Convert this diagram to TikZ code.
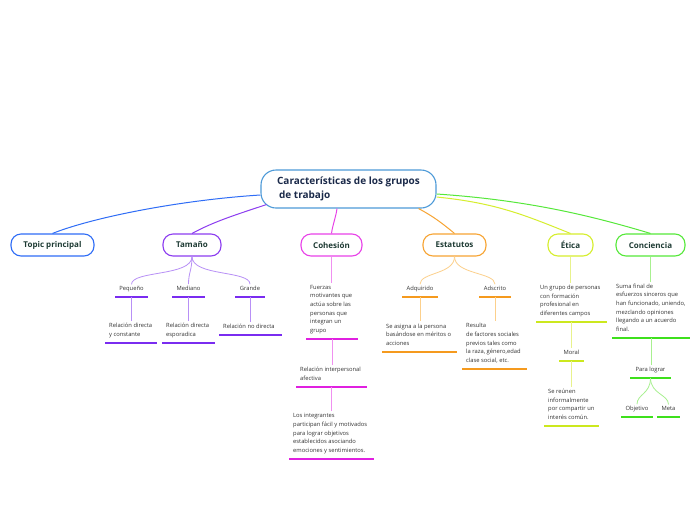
\documentclass[tikz,border=0pt]{standalone}
\usepackage{fontspec}
\setmainfont{Open Sans}
\definecolor{centB}{HTML}{4D9AD8}
\definecolor{titleT}{HTML}{1B2A4A}
\definecolor{mainT}{HTML}{1E3B34}
\definecolor{smallT}{HTML}{333333}
\definecolor{cBlue}{HTML}{2F6DF6}
\definecolor{cPur}{HTML}{8C3CF0}
\definecolor{cPurL}{HTML}{B890F6}
\definecolor{cPurU}{HTML}{7A2CF0}
\definecolor{cMag}{HTML}{E842E8}
\definecolor{cMagL}{HTML}{F090F0}
\definecolor{cMagU}{HTML}{E020E0}
\definecolor{cOra}{HTML}{F7A433}
\definecolor{cOraL}{HTML}{FCD08C}
\definecolor{cOraU}{HTML}{F59A1E}
\definecolor{cYel}{HTML}{D6EE2E}
\definecolor{cYelL}{HTML}{E8F28C}
\definecolor{cYelU}{HTML}{CCE81E}
\definecolor{cGre}{HTML}{56E83A}
\definecolor{cGreL}{HTML}{A8F090}
\definecolor{cGreU}{HTML}{3EE01C}
\tikzset{
  mainbox/.style={draw, rounded corners=10pt, minimum height=22pt, line width=1.1pt,
    fill=white, font=\bfseries\fontsize{8}{10}\selectfont, text=mainT, inner sep=0pt},
  txt/.style={inner xsep=4pt, inner ysep=2pt, font=\fontsize{5.8}{8.6}\selectfont, text=smallT},
  ulline/.style={line width=1.6pt},
  conn/.style={line width=1pt},
  brl/.style={line width=0.8pt}
}
\newcommand\ulc[6]{%
  \coordinate (#1-l) at (#2,#4);
  \coordinate (#1-r) at (#3,#4);
  \coordinate (#1-m) at ({(#2+#3)/2},#4);
  \node[txt, anchor=south, align=center] (#1) at ({(#2+#3)/2},#4-2.6) {#6\vphantom{gp}};
  \draw[ulline, #5] (#1-l) -- (#1-r);
}
\newcommand\ull[6]{%
  \coordinate (#1-l) at (#2,#4);
  \coordinate (#1-r) at (#3,#4);
  \coordinate (#1-m) at ({(#2+#3)/2},#4);
  \node[txt, anchor=south west, align=left] (#1) at (#2,#4-3.2) {#6\vphantom{gp}};
  \draw[ulline, #5] (#1-l) -- (#1-r);
}
\begin{document}
\begin{tikzpicture}[x=1pt,y=-1pt]
\fill[white] (0,0) rectangle (696,520);
\useasboundingbox (0,0) rectangle (696,520);

% central node
\node[draw=centB, line width=1.1pt, rounded corners=15pt, minimum width=175pt, minimum height=38pt,
  fill=white, align=left, text=titleT, font=\bfseries\fontsize{10}{14}\selectfont, inner sep=0pt]
  (cent) at (348.5,189) {Características de los grupos\\\hspace*{2pt}de trabajo};

% main topics
\node[mainbox, draw=cBlue, minimum width=83pt] (top) at (52.5,245) {Topic principal};
\node[mainbox, draw=cPur, minimum width=58pt] (tam) at (192,245) {Tamaño};
\node[mainbox, draw=cMag, minimum width=61pt] (coh) at (331.5,245) {Cohesión};
\node[mainbox, draw=cOra, minimum width=63pt] (est) at (454.5,245) {Estatutos};
\node[mainbox, draw=cYel, minimum width=45pt] (eti) at (570.5,245) {Ética};
\node[mainbox, draw=cGre, minimum width=69pt] (con) at (650.5,245) {Conciencia};

% main connectors
\draw[conn, cBlue] ([yshift=-6pt]cent.west) .. controls +(-80,5) and +(40,-16) .. (top.north);
\draw[conn, cPur] ([xshift=6pt,yshift=4pt]cent.south west) .. controls +(-30,10) and +(22,-12) .. (tam.north);
\draw[conn, cMag] ([xshift=-11.5pt]cent.south) .. controls +(-1,8) and +(1,-8) .. (coh.north);
\draw[conn, cOra] ([xshift=-18pt]cent.south east) .. controls +(15,8) and +(-12,-10) .. (est.north);
\draw[conn, cYel] ([yshift=-8pt]cent.east) .. controls +(60,6) and +(-45,-18) .. (eti.north);
\draw[conn, cGre] ([yshift=-5pt]cent.east) .. controls +(90,6) and +(-60,-18) .. (con.north);

% Tamano
\ulc{peq}{115}{148}{297}{cPurU}{Pequeño}
\ulc{med}{172}{205}{297}{cPurU}{Mediano}
\ulc{gra}{235}{265}{297}{cPurU}{Grande}
\ull{rdc}{105}{157}{343}{cPurU}{Relación directa\\y constante}
\ull{rde}{162}{215}{343}{cPurU}{Relación directa\\esporadica}
\ull{rnd}{219}{282}{335}{cPurU}{Relación no directa}
\draw[brl, cPurL] (tam.south) .. controls +(0,20) and +(0,-14) .. (peq.north);
\draw[brl, cPurL] (tam.south) .. controls +(0,14) and +(0,-12) .. (med.north);
\draw[brl, cPurL] (tam.south) .. controls +(0,20) and +(0,-14) .. (gra.north);
\draw[brl, cPurL] (peq-m) -- (peq-m |- rdc.north);
\draw[brl, cPurL] (med-m) -- (med-m |- rde.north);
\draw[brl, cPurL] (gra-m) -- (gra-m |- rnd.north);

% Cohesion
\ull{fue}{306}{358}{339}{cMagU}{Fuerzas\\motivantes que\\actúa sobre las\\personas que\\integran un\\grupo}
\ull{rel}{296}{367}{387}{cMagU}{Relación interpersonal\\afectiva}
\ull{los}{289}{374}{459}{cMagU}{Los integrantes\\participan fácil y motivados\\para lograr objetivos\\establecidos asociando\\emociones y sentimientos.}
\draw[brl, cMagL] (coh.south) -- (coh.south |- fue.north);
\draw[brl, cMagL] (fue-m) -- (fue-m |- rel.north);
\draw[brl, cMagL] (rel-m) -- (rel-m |- los.north);

% Estatutos
\ulc{adq}{402}{438}{297}{cOraU}{Adquirido}
\ulc{ads}{479}{511}{297}{cOraU}{Adscrito}
\ull{sea}{382}{457}{352}{cOraU}{Se asigna a la persona\\basándose en méritos o\\acciones}
\ull{res}{462}{527}{369}{cOraU}{Resulta\\de factores sociales\\previos tales como\\la raza, género,edad\\clase social, etc.}
\draw[brl, cOraL] (est.south) .. controls +(0,18) and +(0,-12) .. (adq.north);
\draw[brl, cOraL] (est.south) .. controls +(0,18) and +(0,-12) .. (ads.north);
\draw[brl, cOraL] (adq-m) -- (adq-m |- sea.north);
\draw[brl, cOraL] (ads-m) -- (ads-m |- res.north);

% Etica
\ull{ung}{536}{607}{322}{cYelU}{Un grupo de personas\\con formación\\profesional en\\diferentes campos}
\ulc{mor}{559}{584}{361}{cYelU}{Moral}
\ull{ser}{544}{599}{426}{cYelU}{Se reúnen\\informalmente\\por compartir un\\interés común.}
\draw[brl, cYelL] (eti.south) -- (eti.south |- ung.north);
\draw[brl, cYelL] (ung-m) -- (ung-m |- mor.north);
\draw[brl, cYelL] (mor-m) -- (mor-m |- ser.north);

% Conciencia
\ull{sum}{612}{690}{338}{cGreU}{Suma final de\\esfuerzos sinceros que\\han funcionado, uniendo,\\mezclando opiniones\\llegando a un acuerdo\\final.}
\ulc{par}{630}{671}{378}{cGreU}{Para lograr}
\ulc{obj}{621}{653}{417}{cGreU}{Objetivo}
\ulc{met}{657}{680}{417}{cGreU}{Meta}
\draw[brl, cGreL] (con.south) -- (con.south |- sum.north);
\draw[brl, cGreL] (sum-m) -- (sum-m |- par.north);
\draw[brl, cGreL] (par-m) .. controls +(0,16) and +(0,-10) .. (obj.north);
\draw[brl, cGreL] (par-m) .. controls +(0,16) and +(0,-10) .. (met.north);
\end{tikzpicture}
\end{document}
